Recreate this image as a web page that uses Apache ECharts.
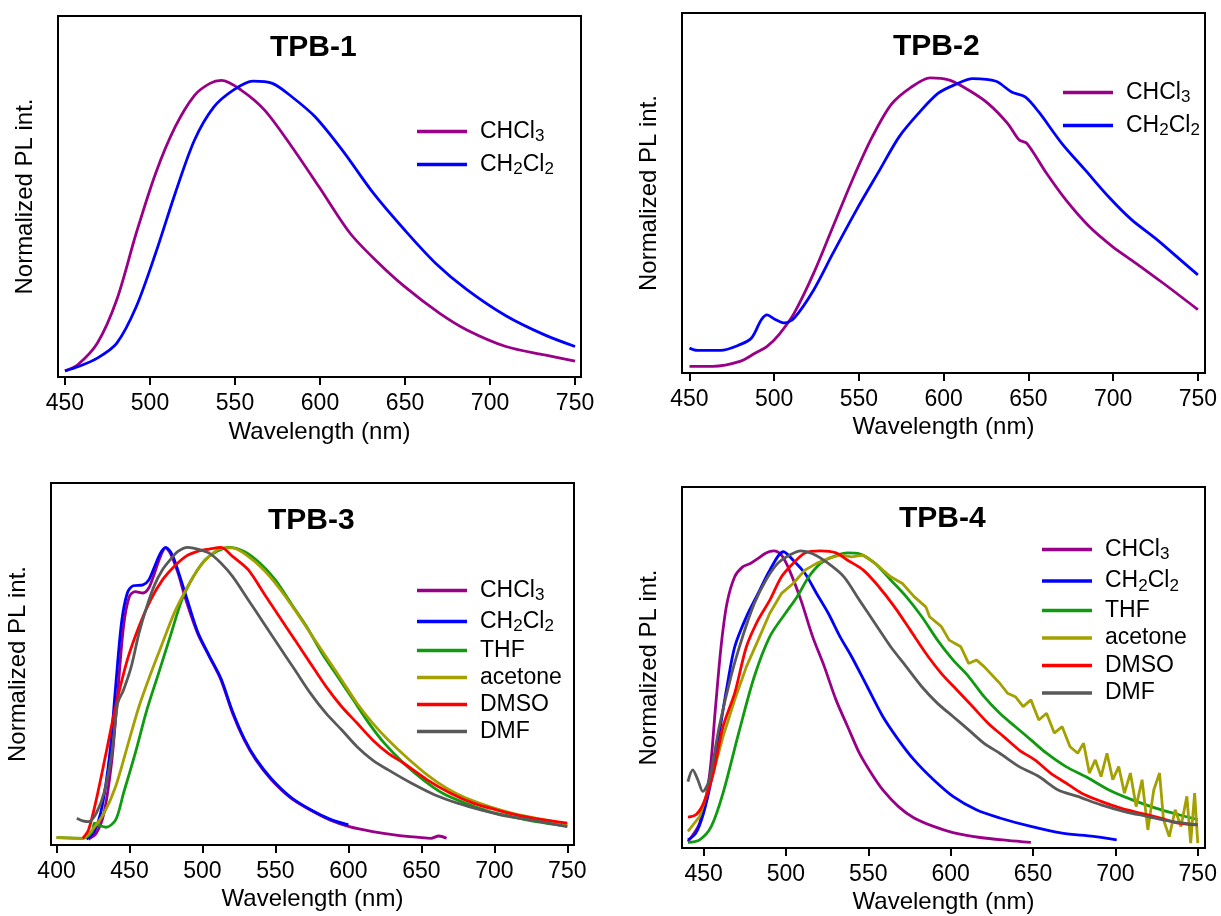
<!DOCTYPE html>
<html>
<head>
<meta charset="utf-8">
<script src="https://cdn.jsdelivr.net/npm/echarts@6/dist/echarts.min.js"></script>
<style>
html,body{margin:0;padding:0;background:#fff;}
#c{width:1221px;height:916px;}
</style>
</head>
<body>
<div id="c"></div>
<script>
// ---------------- DATA ----------------
const ticks450 = [450, 500, 550, 600, 650, 700, 750];
const ticks400 = [400, 450, 500, 550, 600, 650, 700, 750];

// TPB-1
const tpb1_CHCl3 = [[450,0.0],[457.5,0.021],[469,0.095],[480.4,0.244],[491.9,0.474],[503.3,0.68],[514.8,0.84],[526.2,0.949],[535.3,0.99],[542,1.0],[553.6,0.967],[567.4,0.898],[583.4,0.772],[599.4,0.634],[617.7,0.474],[633.8,0.375],[649.8,0.29],[670.4,0.198],[686.4,0.141],[709.3,0.084],[732.1,0.055],[750,0.034]];
const tpb1_CH2Cl2 = [[450,0.0],[458,0.015],[469,0.044],[480.4,0.095],[491.9,0.221],[503.3,0.405],[514.8,0.611],[526.2,0.795],[537.6,0.909],[549,0.967],[560.5,0.998],[572,0.99],[583.4,0.944],[597.1,0.875],[613.1,0.76],[631.5,0.611],[649.8,0.485],[668.1,0.37],[686.4,0.28],[709.3,0.19],[732.1,0.124],[750,0.084]];

// TPB-2
const tpb2_CHCl3 = [[450,0.0],[463.7,0.0],[479.8,0.017],[488.9,0.046],[495.8,0.069],[502.7,0.109],[511.8,0.184],[523.3,0.322],[534.7,0.483],[546.2,0.645],[557.6,0.79],[569.1,0.905],[580.5,0.963],[592,0.997],[603.4,0.989],[614.9,0.954],[626.3,0.908],[637.8,0.839],[644.6,0.782],[649.2,0.77],[660.7,0.667],[672.1,0.575],[685.9,0.483],[699.6,0.414],[713.3,0.357],[729.4,0.288],[750,0.196]];
const tpb2_CH2Cl2 = [[450,0.063],[454.6,0.055],[468.3,0.055],[479.8,0.075],[486.6,0.098],[492.4,0.161],[495.8,0.178],[500.4,0.163],[506.1,0.15],[511.8,0.167],[523.3,0.264],[534.7,0.391],[548.5,0.54],[562.2,0.678],[573.7,0.793],[585.1,0.874],[596.6,0.943],[605.7,0.971],[617.2,0.994],[630.9,0.985],[640.1,0.948],[648.1,0.931],[656.1,0.879],[669.8,0.77],[683.6,0.678],[697.3,0.586],[711,0.506],[724.8,0.443],[738.5,0.374],[750,0.316]];

// TPB-3
const tpb3_CHCl3 = [[421.9,-0.003],[427.2,0.017],[432.5,0.086],[437.9,0.269],[441.9,0.499],[445.9,0.728],[449.9,0.831],[453.9,0.848],[459.2,0.843],[463.2,0.86],[467.2,0.912],[471.2,0.969],[474.7,0.998],[477.9,0.98],[483.2,0.912],[488.6,0.82],[496.6,0.705],[504.6,0.625],[512.6,0.545],[520.6,0.43],[528.6,0.338],[536.6,0.269],[547.2,0.201],[560.6,0.138],[573.9,0.097],[587.3,0.063],[600.6,0.04],[616.6,0.023],[632.6,0.011],[648.6,0.003],[656.6,0.0],[661.9,0.008],[667.3,0.0]];
const tpb3_CH2Cl2 = [[420.5,-0.003],[425.9,0.023],[431.2,0.109],[436.5,0.292],[440.5,0.522],[444.5,0.74],[448.5,0.843],[452.5,0.868],[459.2,0.871],[463.2,0.888],[467.2,0.934],[471.2,0.98],[474.7,1.0],[479.2,0.975],[484.5,0.9],[489.9,0.814],[496.6,0.711],[504.6,0.628],[512.6,0.55],[520.6,0.436],[528.6,0.343],[536.6,0.273],[547.2,0.205],[560.6,0.141],[573.9,0.099],[587.3,0.066],[600,0.046]];
const tpb3_THF = [[400,0.002],[417.9,0.0],[424.5,0.023],[425.9,0.052],[428.5,0.046],[433.9,0.038],[440.5,0.063],[445.9,0.155],[453.9,0.292],[461.9,0.441],[469.9,0.567],[477.9,0.694],[485.9,0.82],[493.9,0.9],[501.9,0.957],[509.9,0.986],[517.9,1.0],[528.6,0.986],[539.3,0.946],[549.9,0.888],[560.6,0.808],[571.3,0.728],[581.9,0.636],[592.6,0.556],[603.3,0.476],[614,0.396],[624.6,0.327],[637.9,0.258],[651.3,0.201],[664.6,0.155],[680.6,0.12],[696.6,0.092],[712.6,0.074],[728.6,0.057],[750,0.042]];
const tpb3_acetone = [[400,0.002],[417.9,0.0],[424.5,0.029],[432.5,0.086],[440.5,0.178],[448.5,0.315],[456.5,0.453],[464.6,0.567],[472.6,0.671],[480.6,0.774],[488.6,0.854],[496.6,0.923],[504.6,0.969],[513.9,0.998],[520.6,0.998],[531.3,0.969],[541.9,0.923],[552.6,0.86],[563.3,0.785],[573.9,0.705],[584.6,0.625],[595.3,0.545],[605.9,0.464],[616.6,0.396],[627.3,0.338],[640.6,0.275],[654,0.218],[667.3,0.172],[680.6,0.138],[696.6,0.109],[712.6,0.086],[728.6,0.069],[750,0.048]];
const tpb3_DMSO = [[417.9,0.0],[421.9,0.029],[427.2,0.132],[433.9,0.292],[440.5,0.453],[448.5,0.613],[456.5,0.728],[464.6,0.82],[472.6,0.888],[480.6,0.934],[488.6,0.969],[496.6,0.986],[504.6,0.994],[512.6,1.0],[520.6,0.969],[531.3,0.923],[541.9,0.843],[552.6,0.762],[563.3,0.682],[573.9,0.602],[584.6,0.522],[595.3,0.453],[605.9,0.396],[616.6,0.338],[627.3,0.292],[637.9,0.258],[654,0.201],[670,0.155],[686,0.12],[702,0.097],[718,0.077],[734,0.063],[750,0.052]];
const tpb3_DMF = [[413.9,0.069],[417.9,0.06],[421.9,0.057],[427.2,0.086],[432.5,0.155],[437.9,0.292],[441.9,0.464],[445.9,0.51],[451.2,0.59],[456.5,0.705],[461.9,0.797],[467.2,0.871],[472.6,0.923],[477.9,0.957],[483.2,0.986],[489.9,1.0],[496.6,0.994],[504.6,0.98],[512.6,0.946],[520.6,0.9],[531.3,0.82],[541.9,0.74],[552.6,0.659],[563.3,0.579],[573.9,0.499],[584.6,0.43],[595.3,0.373],[605.9,0.315],[616.6,0.269],[627.3,0.235],[643.3,0.189],[659.3,0.149],[675.3,0.12],[691.3,0.097],[707.3,0.077],[728.6,0.06],[750,0.04]];

// TPB-4
const tpb4_CHCl3 = [[440.5,0.003],[447.6,0.066],[453.5,0.226],[457.1,0.454],[460.6,0.671],[464.2,0.82],[468.9,0.911],[473.7,0.945],[478.4,0.957],[483.1,0.974],[487.9,0.993],[492.6,1.0],[497.3,0.985],[502.1,0.934],[509.1,0.831],[516.2,0.706],[523.3,0.603],[530.4,0.489],[537.5,0.397],[544.6,0.306],[551.7,0.238],[558.8,0.18],[568.3,0.123],[577.8,0.084],[589.6,0.055],[601.4,0.034],[618,0.017],[634.5,0.007],[648.7,0.0]];
const tpb4_CH2Cl2 = [[440.5,0.009],[445.3,0.032],[450,0.101],[454.7,0.215],[459.5,0.375],[464.2,0.534],[468.9,0.671],[476,0.774],[483.1,0.854],[490.2,0.934],[498.5,0.997],[504.4,0.968],[511.5,0.923],[518.6,0.854],[525.7,0.786],[532.8,0.706],[539.9,0.637],[549.4,0.534],[558.8,0.432],[568.3,0.352],[577.8,0.283],[589.6,0.215],[601.4,0.158],[615.6,0.112],[629.8,0.084],[648.7,0.055],[667.7,0.032],[686.6,0.021],[700.8,0.009]];
const tpb4_THF = [[440.5,0.0],[447.6,0.009],[454.7,0.055],[461.8,0.169],[471.3,0.375],[480.8,0.569],[490.2,0.706],[499.7,0.786],[506.8,0.843],[513.9,0.911],[521,0.957],[528.1,0.979],[537.5,0.993],[544.6,0.99],[554.1,0.957],[563.6,0.9],[573,0.843],[582.5,0.774],[592,0.694],[601.4,0.626],[610.9,0.569],[620.3,0.5],[629.8,0.443],[639.3,0.397],[648.7,0.352],[658.2,0.306],[670,0.26],[681.9,0.226],[696.1,0.18],[710.3,0.146],[724.4,0.118],[738.6,0.095],[750,0.078]];
const tpb4_acetone = [[440.5,0.038],[447.6,0.089],[454.7,0.215],[461.8,0.363],[468.9,0.489],[476,0.603],[483.1,0.694],[490.2,0.786],[497.3,0.854],[504.4,0.888],[511.5,0.934],[518.6,0.957],[525.7,0.974],[532.8,0.985],[539.9,0.979],[547,0.985],[554.1,0.957],[563.6,0.911],[570.7,0.888],[577.8,0.843],[584.9,0.808],[587.2,0.774],[594.4,0.74],[599.1,0.694],[606.2,0.671],[610.9,0.614],[615.6,0.626],[620.3,0.603],[629.8,0.546],[634.5,0.512],[639.3,0.5],[644,0.466],[648.7,0.489],[653.5,0.42],[658.2,0.443],[662.9,0.375],[667.7,0.397],[672.4,0.329],[677.1,0.306],[680.7,0.34],[684.2,0.238],[687.8,0.283],[691.3,0.226],[694.9,0.306],[698.4,0.215],[702,0.26],[705.5,0.169],[709.1,0.238],[712.6,0.123],[716.2,0.215],[719.7,0.043],[723.3,0.18],[726.8,0.238],[729.2,0.078],[732.7,0.02],[736.3,0.112],[739.8,0.055],[743.4,0.158],[745.7,-0.002],[748.1,0.169],[750,-0.002]];
const tpb4_DMSO = [[440.5,0.087],[445.3,0.095],[450,0.135],[455.9,0.238],[461.8,0.397],[468.9,0.512],[476,0.671],[483.1,0.763],[490.2,0.831],[497.3,0.911],[504.4,0.957],[511.5,0.993],[521,1.0],[530.4,0.993],[537.5,0.968],[547,0.934],[556.4,0.877],[565.9,0.808],[575.4,0.729],[584.9,0.649],[594.3,0.58],[603.8,0.523],[613.3,0.466],[622.7,0.409],[632.2,0.363],[641.6,0.317],[651.1,0.283],[660.6,0.238],[670,0.204],[679.5,0.169],[691.3,0.141],[703.2,0.118],[715,0.101],[726.8,0.084],[738.6,0.066],[750,0.06]];
const tpb4_DMF = [[440.5,0.209],[443.4,0.249],[446.5,0.215],[449.5,0.175],[453.5,0.215],[459.5,0.397],[466.6,0.569],[473.7,0.706],[480.8,0.82],[487.9,0.9],[495,0.957],[502.1,0.985],[509.1,1.0],[516.2,0.99],[525.7,0.957],[535.2,0.911],[544.6,0.831],[554.1,0.751],[563.6,0.671],[573,0.603],[582.5,0.534],[592,0.477],[601.4,0.432],[610.9,0.386],[620.3,0.34],[629.8,0.306],[641.6,0.26],[653.5,0.226],[665.3,0.18],[677.1,0.158],[691.3,0.129],[705.5,0.106],[719.7,0.089],[733.9,0.072],[750,0.06]];

// ---------------- STYLE ----------------
const FONT = "'Liberation Sans', Arial, Helvetica, sans-serif";
const COLORS = {CHCl3:'#990088', CH2Cl2:'#0000FF', THF:'#109A10', acetone:'#A3A000', DMSO:'#FF0000', DMF:'#595959'};
const RICH = {CHCl3:'CHCl{s|3}', CH2Cl2:'CH{s|2}Cl{s|2}'};

const panels = [
  {title:'TPB-1', tl:270, tt:33, grid:{left:58, top:16, width:523, height:361}, xmin:445.9, xmax:753.5, ymin:-0.021, ymax:1.222, ticks:ticks450, nameGap:43,
   series:[['CHCl3',tpb1_CHCl3],['CH2Cl2',tpb1_CH2Cl2]], legend:{left:417, top:118, itemGap:6}},
  {title:'TPB-2', tl:893, tt:32, grid:{left:682, top:13, width:523, height:360}, xmin:445.6, xmax:754.2, ymin:-0.023, ymax:1.221, ticks:ticks450, nameGap:42,
   series:[['CHCl3',tpb2_CHCl3],['CH2Cl2',tpb2_CH2Cl2]], legend:{left:1063, top:79, itemGap:6}},
  {title:'TPB-3', tl:268, tt:506, grid:{left:51, top:483, width:523, height:362}, xmin:396.2, xmax:754.6, ymin:-0.023, ymax:1.221, ticks:ticks400, nameGap:42,
   series:[['CHCl3',tpb3_CHCl3],['CH2Cl2',tpb3_CH2Cl2],['THF',tpb3_THF],['acetone',tpb3_acetone],['DMSO',tpb3_DMSO],['DMF',tpb3_DMF]], legend:{left:417, top:577, itemGap:4}},
  {title:'TPB-4', tl:899, tt:504, grid:{left:682, top:487, width:523, height:361}, xmin:436.9, xmax:754.4, ymin:-0.019, ymax:1.219, ticks:ticks450, nameGap:42,
   series:[['CHCl3',tpb4_CHCl3],['CH2Cl2',tpb4_CH2Cl2],['THF',tpb4_THF],['acetone',tpb4_acetone],['DMSO',tpb4_DMSO],['DMF',tpb4_DMF]], legend:{left:1042, top:536, itemGap:4.5}}
];

const option = {animation:false, backgroundColor:'#fff', title:[], grid:[], xAxis:[], yAxis:[], series:[], legend:[]};
panels.forEach((p, i) => {
  option.title.push({text:p.title, left:p.tl, top:p.tt, padding:0,
    textStyle:{fontSize:30, fontWeight:'bold', color:'#000', fontFamily:FONT}});
  option.grid.push(Object.assign({show:true, borderColor:'#000', borderWidth:2, backgroundColor:'transparent', containLabel:false, outerBoundsMode:'none'}, p.grid));
  option.xAxis.push({type:'value', gridIndex:i, min:p.xmin, max:p.xmax,
    axisLine:{show:true, onZero:false, lineStyle:{color:'#000', width:2}},
    axisTick:{show:true, inside:false, length:8, lineStyle:{color:'#000', width:2}, customValues:p.ticks},
    axisLabel:{show:true, customValues:p.ticks, fontSize:23, color:'#000', fontFamily:FONT, margin:15, hideOverlap:false},
    splitLine:{show:false},
    name:'Wavelength (nm)', nameLocation:'middle', nameGap:p.nameGap,
    nameTextStyle:{fontSize:24, color:'#000', fontFamily:FONT}});
  option.yAxis.push({type:'value', gridIndex:i, min:p.ymin, max:p.ymax,
    axisLine:{show:false}, axisTick:{show:false}, axisLabel:{show:false}, splitLine:{show:false},
    name:'Normalized PL int.', nameLocation:'middle', nameGap:21,
    nameTextStyle:{fontSize:24, color:'#000', fontFamily:FONT}});
  p.series.forEach(([name, data]) => {
    option.series.push({type:'line', name:name, xAxisIndex:i, yAxisIndex:i, data:data,
      symbol:'none', showSymbol:false, smooth: (name === 'acetone' && i === 3) ? false : 0.3,
      lineStyle:{width:2.8, color:COLORS[name]}, itemStyle:{color:COLORS[name]}, z:2});
  });
  option.legend.push({orient:'vertical', left:p.legend.left, top:p.legend.top, itemGap:p.legend.itemGap,
    itemWidth:50, itemHeight:3.5, icon:'rect', selectedMode:false, padding:0,
    data:p.series.map(s => s[0]),
    formatter: n => RICH[n] || n,
    textStyle:{fontSize:23, color:'#000', fontFamily:FONT, padding:[0,0,0,8],
      rich:{s:{fontSize:17, lineHeight:17, padding:[10,0,0,0], color:'#000', fontFamily:FONT}}}});
});

const chart = echarts.init(document.getElementById('c'), null, {renderer:'canvas', width:1221, height:916});
chart.setOption(option);
</script>
</body>
</html>
